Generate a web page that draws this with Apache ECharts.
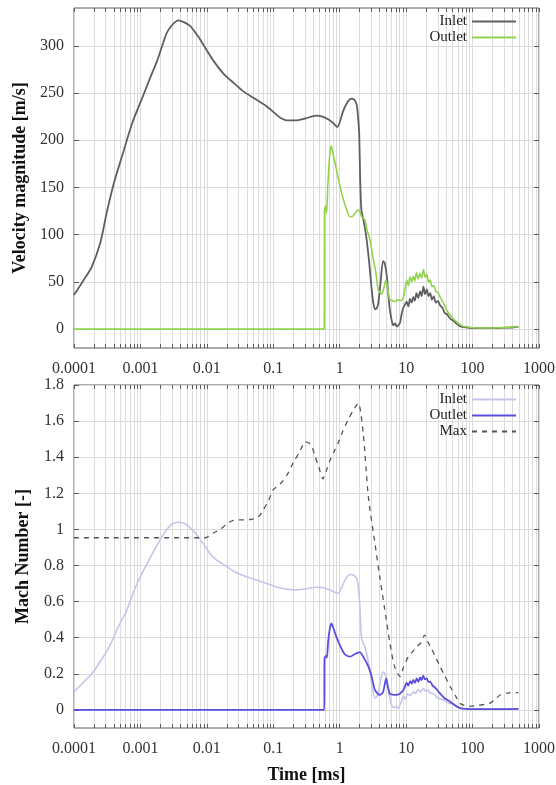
<!DOCTYPE html>
<html>
<head>
<meta charset="utf-8">
<script src="https://cdn.jsdelivr.net/npm/echarts@6/dist/echarts.min.js"></script>
<style>
  html, body { margin: 0; padding: 0; background: #fff; }
  #chart { width: 556px; height: 785px; }
</style>
</head>
<body>
<div id="chart"></div>
<script>
// ---- Axis ticks -----------------------------------------------------------
const timeDecades = [0.0001, 0.001, 0.01, 0.1, 1, 10, 100, 1000];
const timeLabels = ['0.0001', '0.001', '0.01', '0.1', '1', '10', '100', '1000'];
const velocityTicks = [0, 50, 100, 150, 200, 250, 300];
const machTicks = [0, 0.2, 0.4, 0.6, 0.8, 1, 1.2, 1.4, 1.6, 1.8];

// ---- Velocity magnitude [m/s] vs time [ms] --------------------------------
const inletVelocity = [
  [0.0001, 36], [0.00014, 52], [0.000185, 66], [0.00025, 92], [0.00031, 123],
  [0.0004, 155], [0.00055, 187], [0.00075, 218], [0.00104, 243], [0.0014, 266],
  [0.00176, 283], [0.0022, 303], [0.0025, 314], [0.003, 322], [0.0037, 327],
  [0.0045, 325], [0.0056, 321], [0.0067, 314], [0.0079, 307], [0.01, 295],
  [0.0126, 284], [0.018, 270], [0.025, 261], [0.035, 252], [0.05, 245],
  [0.065, 240], [0.079, 236], [0.1, 230], [0.126, 224], [0.16, 221],
  [0.22, 221], [0.3, 223], [0.45, 226], [0.55, 225], [0.68, 222],
  [0.8, 218], [0.92, 214], [1.0, 219], [1.13, 231], [1.3, 240],
  [1.51, 244], [1.65, 243], [1.8, 238], [1.9, 222], [1.97, 205],
  [2.03, 160], [2.12, 126], [2.3, 114], [2.54, 95], [2.8, 68],
  [3.0, 45], [3.2, 28], [3.4, 21], [3.6, 22], [3.8, 27],
  [4.1, 48], [4.5, 72], [4.75, 70], [5.1, 57], [5.4, 36],
  [5.7, 20], [6.1, 8], [6.4, 4], [6.8, 6], [7.2, 3],
  [7.6, 4], [8.1, 7], [8.5, 15], [9.0, 22], [9.6, 26],
  [10.2, 29], [10.8, 24], [11.4, 32], [12.1, 28], [12.8, 34],
  [13.5, 30], [14.3, 38], [15.2, 33], [16.2, 40], [17.1, 35],
  [18.2, 45], [19.3, 37], [20.5, 42], [21.7, 35], [23, 38],
  [24.5, 31], [26, 35], [28, 28], [30, 30], [32.5, 25],
  [35, 23], [38, 17], [41, 16], [46, 11], [51, 9],
  [57, 6], [64.5, 3], [75, 2], [90, 1.2], [102, 1],
  [150, 1], [230, 1], [350, 1.5], [490, 2.5]
];
const outletVelocity = [
  [0.0001, 0], [0.5, 0], [0.586, 0], [0.59, 126], [0.61, 130], [0.635, 123],
  [0.66, 150], [0.7, 180], [0.74, 194], [0.78, 188], [0.85, 176],
  [0.95, 160], [1.07, 144], [1.25, 128], [1.43, 119], [1.6, 120],
  [1.75, 124], [1.9, 126], [2.0, 125], [2.14, 119], [2.37, 116],
  [2.6, 104], [2.85, 95], [3.2, 74], [3.5, 60], [3.8, 42],
  [4.27, 37], [4.6, 43], [4.96, 52], [5.3, 41], [5.7, 31],
  [6.2, 30], [6.8, 29], [7.5, 31], [8.2, 30], [9.1, 34],
  [9.6, 42], [10.2, 52], [10.8, 46], [11.4, 55], [12.1, 50],
  [12.8, 56], [13.5, 51], [14.3, 60], [15.2, 53], [16.2, 59],
  [17.1, 54], [18.2, 63], [19.3, 55], [20.5, 58], [21.7, 50],
  [23, 52], [24.5, 45], [26, 46], [28, 40], [30, 39],
  [32.5, 34], [35, 30], [38, 25], [41, 20], [46, 15],
  [51, 11], [57, 8], [64.5, 5], [72, 3], [81, 2.5],
  [100, 1.5], [150, 1.2], [250, 1.5], [350, 2], [490, 2.5]
];

// ---- Mach number [-] vs time [ms] -----------------------------------------
const inletMach = [
  [0.0001, 0.10], [0.00014, 0.155], [0.000185, 0.20], [0.00025, 0.27], [0.00034, 0.35],
  [0.00045, 0.45], [0.00062, 0.55], [0.0008, 0.66], [0.001, 0.74], [0.0013, 0.82],
  [0.00176, 0.91], [0.0022, 0.97], [0.0025, 1.0], [0.003, 1.03], [0.0037, 1.04],
  [0.0045, 1.035], [0.0056, 1.01], [0.007, 0.97], [0.0089, 0.92], [0.011, 0.87],
  [0.014, 0.83], [0.019, 0.80], [0.025, 0.77], [0.035, 0.745], [0.056, 0.72],
  [0.08, 0.70], [0.126, 0.675], [0.2, 0.665], [0.3, 0.67], [0.45, 0.68],
  [0.6, 0.675], [0.75, 0.66], [0.95, 0.646], [1.07, 0.68], [1.25, 0.73],
  [1.45, 0.75], [1.65, 0.745], [1.8, 0.73], [1.9, 0.68], [2.0, 0.59],
  [2.08, 0.45], [2.15, 0.39], [2.4, 0.35], [2.85, 0.22], [3.1, 0.12],
  [3.4, 0.065], [3.8, 0.09], [4.1, 0.16], [4.5, 0.21], [4.8, 0.20],
  [5.1, 0.17], [5.5, 0.09], [6.0, 0.03], [6.5, 0.012], [7.0, 0.02],
  [7.6, 0.01], [8.3, 0.04], [9.1, 0.075], [9.8, 0.06], [10.5, 0.09],
  [11.4, 0.08], [12.8, 0.10], [13.8, 0.09], [15.2, 0.115], [16.5, 0.10],
  [18.2, 0.12], [19.5, 0.105], [21, 0.11], [23, 0.095], [26, 0.09],
  [29, 0.07], [33, 0.06], [37, 0.055], [43, 0.04], [51, 0.03],
  [60, 0.015], [80, 0.005], [150, 0.004], [300, 0.005], [490, 0.008]
];
const outletMach = [
  [0.0001, 0], [0.5, 0], [0.586, 0], [0.59, 0.285], [0.62, 0.30], [0.64, 0.29],
  [0.67, 0.38], [0.71, 0.45], [0.75, 0.48], [0.8, 0.455], [0.88, 0.41],
  [1.0, 0.36], [1.18, 0.31], [1.43, 0.295], [1.7, 0.31], [2.0, 0.32],
  [2.3, 0.29], [2.7, 0.24], [3.0, 0.19], [3.4, 0.11], [4.0, 0.083],
  [4.5, 0.10], [5.0, 0.175], [5.3, 0.13], [5.7, 0.09], [6.3, 0.085],
  [7.0, 0.083], [8.0, 0.09], [9.1, 0.11], [10.2, 0.15], [10.8, 0.135],
  [11.5, 0.16], [12.2, 0.145], [12.8, 0.166], [13.6, 0.15], [14.4, 0.175],
  [15.3, 0.155], [16.2, 0.18], [17.1, 0.165], [18, 0.19], [19.2, 0.17],
  [20.5, 0.175], [21.7, 0.155], [23, 0.157], [25, 0.135], [28, 0.12],
  [32.5, 0.09], [38, 0.065], [46, 0.046], [55, 0.025], [64.5, 0.01],
  [80, 0.006], [150, 0.005], [300, 0.005], [490, 0.006]
];
const maxMach = [
  [0.0001, 0.954], [0.0095, 0.954], [0.0125, 0.98], [0.0158, 1.0], [0.02, 1.03],
  [0.025, 1.05], [0.045, 1.055], [0.06, 1.07], [0.071, 1.11], [0.085, 1.16],
  [0.1, 1.22], [0.126, 1.25], [0.16, 1.30], [0.2, 1.37], [0.25, 1.43],
  [0.3, 1.485], [0.34, 1.48], [0.38, 1.46], [0.43, 1.40], [0.48, 1.35],
  [0.56, 1.28], [0.62, 1.32], [0.71, 1.38], [0.82, 1.43], [0.95, 1.48],
  [1.1, 1.54], [1.35, 1.61], [1.6, 1.66], [1.9, 1.70], [2.26, 1.53],
  [2.7, 1.18], [3.4, 0.92], [4.0, 0.74], [4.7, 0.57], [5.7, 0.37],
  [6.7, 0.24], [8.1, 0.185], [9.2, 0.24], [10.8, 0.295], [12.3, 0.32],
  [14.4, 0.35], [16.5, 0.37], [19, 0.415], [21, 0.38], [24, 0.34],
  [28, 0.29], [32.5, 0.24], [38, 0.19], [46, 0.13], [55, 0.08],
  [64.5, 0.037], [75, 0.025], [91, 0.02], [120, 0.025], [182, 0.037],
  [220, 0.06], [260, 0.083], [350, 0.095], [490, 0.096]
];

// ---- Shared styling -------------------------------------------------------
const FONT = "'Liberation Serif', 'DejaVu Serif', serif";
const GRID_LINE = '#dcdcdc';
const FRAME = '#5a5a5a';

// Tick positions on the log time axis: every decade plus 2..9 inside it.
const timeTicks = [];
timeDecades.forEach(function (d, i) {
  timeTicks.push(d);
  if (i < timeDecades.length - 1) {
    for (let k = 2; k <= 9; k++) timeTicks.push(+(d * k).toPrecision(6));
  }
});

function timeLabel(v) {
  const i = Math.round(Math.log10(v)) + 4;
  return timeLabels[i] !== undefined ? timeLabels[i] : '';
}

function timeAxis(gridIndex, mirror, name) {
  const ax = {
    type: 'log', logBase: 10, gridIndex: gridIndex,
    min: timeDecades[0], max: timeDecades[timeDecades.length - 1],
    position: mirror ? 'top' : 'bottom',
    axisLine: { show: false, onZero: false },
    axisTick: { show: true, inside: true, length: 4, customValues: timeTicks,
                lineStyle: { color: FRAME, width: 1 } },
    axisLabel: { show: !mirror, customValues: timeDecades, formatter: timeLabel,
                 margin: 13, fontFamily: FONT, fontSize: 16, color: '#333' },
    splitLine: { show: !mirror, customValues: timeTicks,
                 lineStyle: { color: GRID_LINE, width: 1 } },
    minorTick: { show: false }, minorSplitLine: { show: false }
  };
  if (name) {
    ax.name = name;
    ax.nameLocation = 'middle';
    ax.nameGap = 38;
    ax.nameTextStyle = { fontFamily: FONT, fontSize: 18, fontWeight: 'bold', color: '#111' };
  }
  return ax;
}

function valueAxis(gridIndex, mirror, min, max, ticks, name) {
  const ax = {
    type: 'value', gridIndex: gridIndex, min: min, max: max,
    position: mirror ? 'right' : 'left',
    axisLine: { show: false, onZero: false },
    axisTick: { show: true, inside: true, length: 5, customValues: ticks,
                lineStyle: { color: FRAME, width: 1 } },
    axisLabel: { show: !mirror, customValues: ticks, margin: 10,
                 fontFamily: FONT, fontSize: 16, color: '#333' },
    splitLine: { show: !mirror, customValues: ticks,
                 lineStyle: { color: GRID_LINE, width: 1 } }
  };
  if (name) {
    ax.name = name;
    ax.nameLocation = 'middle';
    ax.nameGap = 42;
    ax.nameTextStyle = { fontFamily: FONT, fontSize: 18, fontWeight: 'bold', color: '#111' };
  }
  return ax;
}

function legendBox(names, top) {
  return {
    data: names, orient: 'vertical', align: 'right',
    right: 39, top: top, padding: 0, itemGap: 1,
    itemWidth: 44, itemHeight: 14,
    // line samples only, no point marker
    itemStyle: { opacity: 0 },
    formatter: function (n) { return n.replace(' (M)', ''); },
    textStyle: { fontFamily: FONT, fontSize: 15, color: '#222' }
  };
}

function line(name, data, color, width, xi, yi, dashed) {
  return {
    name: name, type: 'line', data: data,
    xAxisIndex: xi, yAxisIndex: yi,
    symbol: 'none', showSymbol: false,
    smooth: 0.25,
    lineStyle: { color: color, width: width, type: dashed ? [5, 5] : 'solid' },
    itemStyle: { color: color },
    emphasis: { disabled: true },
    animation: false
  };
}

const chart = echarts.init(document.getElementById('chart'), null, { renderer: 'canvas' });
chart.setOption({
  backgroundColor: '#ffffff',
  animation: false,
  grid: [
    { left: 74, top: 8, width: 465, height: 340, show: true, borderColor: FRAME,
      borderWidth: 1, containLabel: false, outerBoundsMode: 'none' },
    { left: 74, top: 385, width: 465, height: 343, show: true, borderColor: FRAME,
      borderWidth: 1, containLabel: false, outerBoundsMode: 'none' }
  ],
  xAxis: [
    timeAxis(0, false),
    timeAxis(0, true),
    timeAxis(1, false, 'Time [ms]'),
    timeAxis(1, true)
  ],
  yAxis: [
    valueAxis(0, false, -20, 340, velocityTicks, 'Velocity magnitude [m/s]'),
    valueAxis(0, true, -20, 340, velocityTicks),
    valueAxis(1, false, -0.1, 1.8, machTicks, 'Mach Number [-]'),
    valueAxis(1, true, -0.1, 1.8, machTicks)
  ],
  legend: [
    legendBox(['Inlet', 'Outlet'], 14),
    legendBox(['Inlet (M)', 'Outlet (M)', 'Max'], 392)
  ],
  series: [
    line('Inlet', inletVelocity, '#5f5f5f', 1.8, 0, 0),
    line('Outlet', outletVelocity, '#8fd44c', 1.6, 0, 0),
    line('Inlet (M)', inletMach, '#c5c5ea', 1.6, 2, 2),
    line('Outlet (M)', outletMach, '#5a4ee0', 1.8, 2, 2),
    line('Max', maxMach, '#555555', 1.3, 2, 2, true)
  ]
});
</script>
</body>
</html>
